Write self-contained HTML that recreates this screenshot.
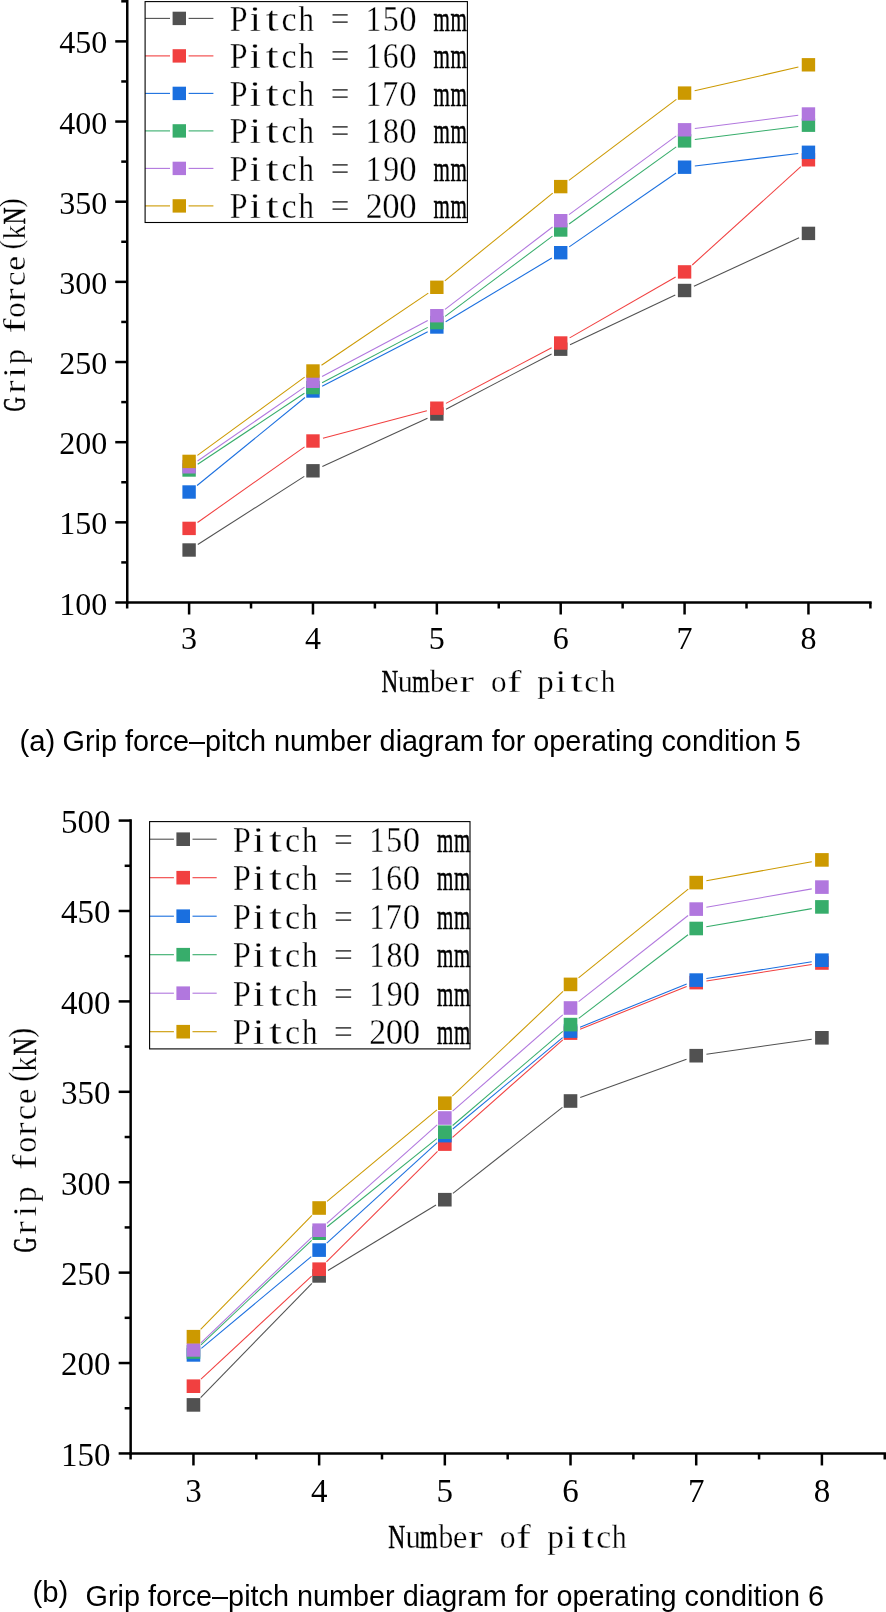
<!DOCTYPE html>
<html><head><meta charset="utf-8"><style>
html,body{margin:0;padding:0;background:#fff;}
body{width:886px;height:1612px;overflow:hidden;}
svg{display:block;will-change:transform;}
.ss text{stroke:#fff;stroke-width:0.3px;}
</style></head><body>
<svg width="886" height="1612" viewBox="0 0 886 1612">
<rect width="886" height="1612" fill="#fff"/>
<g stroke="#000" stroke-width="2.5" stroke-linecap="butt" fill="none">
<line x1="127.25" y1="0" x2="127.25" y2="603.75"/>
<line x1="126.0" y1="602.5" x2="871.65" y2="602.5"/>
<line x1="115.25" y1="602.50" x2="127.25" y2="602.50"/>
<line x1="115.25" y1="522.34" x2="127.25" y2="522.34"/>
<line x1="115.25" y1="442.18" x2="127.25" y2="442.18"/>
<line x1="115.25" y1="362.02" x2="127.25" y2="362.02"/>
<line x1="115.25" y1="281.86" x2="127.25" y2="281.86"/>
<line x1="115.25" y1="201.70" x2="127.25" y2="201.70"/>
<line x1="115.25" y1="121.54" x2="127.25" y2="121.54"/>
<line x1="115.25" y1="41.38" x2="127.25" y2="41.38"/>
<line x1="121.25" y1="562.42" x2="127.25" y2="562.42"/>
<line x1="121.25" y1="482.26" x2="127.25" y2="482.26"/>
<line x1="121.25" y1="402.10" x2="127.25" y2="402.10"/>
<line x1="121.25" y1="321.94" x2="127.25" y2="321.94"/>
<line x1="121.25" y1="241.78" x2="127.25" y2="241.78"/>
<line x1="121.25" y1="161.62" x2="127.25" y2="161.62"/>
<line x1="121.25" y1="81.46" x2="127.25" y2="81.46"/>
<line x1="121.25" y1="1.30" x2="127.25" y2="1.30"/>
<line x1="189.10" y1="602.5" x2="189.10" y2="614.5"/>
<line x1="312.97" y1="602.5" x2="312.97" y2="614.5"/>
<line x1="436.84" y1="602.5" x2="436.84" y2="614.5"/>
<line x1="560.71" y1="602.5" x2="560.71" y2="614.5"/>
<line x1="684.58" y1="602.5" x2="684.58" y2="614.5"/>
<line x1="808.45" y1="602.5" x2="808.45" y2="614.5"/>
<line x1="127.16" y1="602.5" x2="127.16" y2="608.5"/>
<line x1="251.03" y1="602.5" x2="251.03" y2="608.5"/>
<line x1="374.90" y1="602.5" x2="374.90" y2="608.5"/>
<line x1="498.77" y1="602.5" x2="498.77" y2="608.5"/>
<line x1="622.64" y1="602.5" x2="622.64" y2="608.5"/>
<line x1="746.51" y1="602.5" x2="746.51" y2="608.5"/>
<line x1="870.39" y1="602.5" x2="870.39" y2="608.5"/>
</g>
<g font-family='"Liberation Serif", serif' fill="#000">
<text x="107.2" y="614.50" text-anchor="end" font-size="32">100</text>
<text x="107.2" y="534.34" text-anchor="end" font-size="32">150</text>
<text x="107.2" y="454.18" text-anchor="end" font-size="32">200</text>
<text x="107.2" y="374.02" text-anchor="end" font-size="32">250</text>
<text x="107.2" y="293.86" text-anchor="end" font-size="32">300</text>
<text x="107.2" y="213.70" text-anchor="end" font-size="32">350</text>
<text x="107.2" y="133.54" text-anchor="end" font-size="32">400</text>
<text x="107.2" y="53.38" text-anchor="end" font-size="32">450</text>
<text x="189.10" y="648.7" text-anchor="middle" font-size="32">3</text>
<text x="312.97" y="648.7" text-anchor="middle" font-size="32">4</text>
<text x="436.84" y="648.7" text-anchor="middle" font-size="32">5</text>
<text x="560.71" y="648.7" text-anchor="middle" font-size="32">6</text>
<text x="684.58" y="648.7" text-anchor="middle" font-size="32">7</text>
<text x="808.45" y="648.7" text-anchor="middle" font-size="32">8</text>
<g class="ss"><text x="381.38" y="692.30" textLength="16.70" lengthAdjust="spacingAndGlyphs" font-size="32.2" style="stroke:#000;stroke-width:0.5px">N</text>
<text x="397.85" y="692.30" textLength="15.01" lengthAdjust="spacingAndGlyphs" font-size="32.2">u</text>
<text x="412.28" y="692.30" textLength="17.32" lengthAdjust="spacingAndGlyphs" font-size="32.2" style="stroke:#000;stroke-width:0.5px">m</text>
<text x="430.00" y="692.30" textLength="14.50" lengthAdjust="spacingAndGlyphs" font-size="32.2">b</text>
<text x="444.23" y="692.30" textLength="14.39" lengthAdjust="spacingAndGlyphs" font-size="32.2">e</text>
<text x="459.52" y="692.30" textLength="14.67" lengthAdjust="spacingAndGlyphs" font-size="32.2">r</text>
<text x="490.91" y="692.30" textLength="15.57" lengthAdjust="spacingAndGlyphs" font-size="32.2">o</text>
<text x="507.18" y="692.30" textLength="14.32" lengthAdjust="spacingAndGlyphs" font-size="32.2">f</text>
<text x="537.32" y="692.30" textLength="16.52" lengthAdjust="spacingAndGlyphs" font-size="32.2">p</text>
<text x="555.35" y="692.30" textLength="11.22" lengthAdjust="spacingAndGlyphs" font-size="32.2">i</text>
<text x="570.51" y="692.30" textLength="12.40" lengthAdjust="spacingAndGlyphs" font-size="32.2">t</text>
<text x="584.34" y="692.30" textLength="14.68" lengthAdjust="spacingAndGlyphs" font-size="32.2">c</text>
<text x="600.77" y="692.30" textLength="14.57" lengthAdjust="spacingAndGlyphs" font-size="32.2">h</text></g>
<g class="ss" transform="translate(24.9,0) rotate(-90)">
<text x="-411.42" y="0.00" textLength="14.45" lengthAdjust="spacingAndGlyphs" font-size="32" style="stroke:#000;stroke-width:0.5px">G</text>
<text x="-393.49" y="0.00" textLength="13.14" lengthAdjust="spacingAndGlyphs" font-size="32">r</text>
<text x="-377.52" y="0.00" textLength="10.16" lengthAdjust="spacingAndGlyphs" font-size="32">i</text>
<text x="-364.19" y="0.00" textLength="15.06" lengthAdjust="spacingAndGlyphs" font-size="32">p</text>
<text x="-333.40" y="0.00" textLength="15.20" lengthAdjust="spacingAndGlyphs" font-size="32">f</text>
<text x="-317.67" y="0.00" textLength="15.34" lengthAdjust="spacingAndGlyphs" font-size="32">o</text>
<text x="-301.49" y="0.00" textLength="13.14" lengthAdjust="spacingAndGlyphs" font-size="32">r</text>
<text x="-286.16" y="0.00" textLength="14.68" lengthAdjust="spacingAndGlyphs" font-size="32">c</text>
<text x="-270.71" y="0.00" textLength="14.87" lengthAdjust="spacingAndGlyphs" font-size="32">e</text>
<text x="-249.57" y="-3.50" textLength="9.59" lengthAdjust="spacingAndGlyphs" font-size="32">(</text>
<text x="-239.55" y="0.00" textLength="14.55" lengthAdjust="spacingAndGlyphs" font-size="32">k</text>
<text x="-224.58" y="0.00" textLength="17.02" lengthAdjust="spacingAndGlyphs" font-size="32" style="stroke:#000;stroke-width:0.5px">N</text>
<text x="-207.63" y="-3.50" textLength="9.59" lengthAdjust="spacingAndGlyphs" font-size="32">)</text>
</g>
</g>
<line x1="197.78" y1="544.45" x2="304.29" y2="476.35" stroke="#515151" stroke-width="1.05"/>
<line x1="322.33" y1="466.51" x2="427.48" y2="418.29" stroke="#515151" stroke-width="1.05"/>
<line x1="445.97" y1="409.23" x2="551.58" y2="353.97" stroke="#515151" stroke-width="1.05"/>
<line x1="570.02" y1="344.79" x2="675.27" y2="294.91" stroke="#515151" stroke-width="1.05"/>
<line x1="693.93" y1="286.19" x2="799.10" y2="237.71" stroke="#515151" stroke-width="1.05"/>
<line x1="197.52" y1="522.46" x2="304.55" y2="446.94" stroke="#F14040" stroke-width="1.05"/>
<line x1="322.93" y1="438.36" x2="426.88" y2="410.84" stroke="#F14040" stroke-width="1.05"/>
<line x1="445.95" y1="403.40" x2="551.60" y2="347.80" stroke="#F14040" stroke-width="1.05"/>
<line x1="569.64" y1="337.87" x2="675.65" y2="277.03" stroke="#F14040" stroke-width="1.05"/>
<line x1="692.22" y1="264.99" x2="800.81" y2="166.71" stroke="#F14040" stroke-width="1.05"/>
<line x1="197.08" y1="485.49" x2="304.99" y2="397.51" stroke="#1A6FDF" stroke-width="1.05"/>
<line x1="322.12" y1="386.27" x2="427.69" y2="331.73" stroke="#1A6FDF" stroke-width="1.05"/>
<line x1="445.67" y1="321.70" x2="551.88" y2="258.00" stroke="#1A6FDF" stroke-width="1.05"/>
<line x1="569.19" y1="246.85" x2="676.10" y2="173.05" stroke="#1A6FDF" stroke-width="1.05"/>
<line x1="694.81" y1="165.97" x2="798.22" y2="153.53" stroke="#1A6FDF" stroke-width="1.05"/>
<line x1="197.68" y1="464.30" x2="304.39" y2="393.30" stroke="#37AD6B" stroke-width="1.05"/>
<line x1="322.09" y1="382.81" x2="427.72" y2="327.39" stroke="#37AD6B" stroke-width="1.05"/>
<line x1="445.09" y1="316.43" x2="552.46" y2="236.17" stroke="#37AD6B" stroke-width="1.05"/>
<line x1="569.07" y1="223.99" x2="676.22" y2="146.91" stroke="#37AD6B" stroke-width="1.05"/>
<line x1="694.80" y1="139.60" x2="798.23" y2="126.50" stroke="#37AD6B" stroke-width="1.05"/>
<line x1="197.58" y1="460.95" x2="304.49" y2="387.15" stroke="#B177DE" stroke-width="1.05"/>
<line x1="322.07" y1="376.48" x2="427.74" y2="320.52" stroke="#B177DE" stroke-width="1.05"/>
<line x1="445.01" y1="309.43" x2="552.54" y2="226.97" stroke="#B177DE" stroke-width="1.05"/>
<line x1="569.01" y1="214.61" x2="676.28" y2="135.89" stroke="#B177DE" stroke-width="1.05"/>
<line x1="694.80" y1="128.50" x2="798.23" y2="115.30" stroke="#B177DE" stroke-width="1.05"/>
<line x1="197.42" y1="455.33" x2="304.65" y2="377.07" stroke="#CC9900" stroke-width="1.05"/>
<line x1="321.50" y1="365.23" x2="428.31" y2="293.07" stroke="#CC9900" stroke-width="1.05"/>
<line x1="444.83" y1="280.80" x2="552.72" y2="193.10" stroke="#CC9900" stroke-width="1.05"/>
<line x1="568.93" y1="180.39" x2="676.36" y2="99.31" stroke="#CC9900" stroke-width="1.05"/>
<line x1="694.62" y1="90.81" x2="798.41" y2="67.09" stroke="#CC9900" stroke-width="1.05"/>
<rect x="182.40" y="543.30" width="13.4" height="13.4" fill="#515151"/>
<rect x="306.27" y="464.10" width="13.4" height="13.4" fill="#515151"/>
<rect x="430.14" y="407.30" width="13.4" height="13.4" fill="#515151"/>
<rect x="554.01" y="342.50" width="13.4" height="13.4" fill="#515151"/>
<rect x="677.88" y="283.80" width="13.4" height="13.4" fill="#515151"/>
<rect x="801.75" y="226.70" width="13.4" height="13.4" fill="#515151"/>
<rect x="182.40" y="521.70" width="13.4" height="13.4" fill="#F14040"/>
<rect x="306.27" y="434.30" width="13.4" height="13.4" fill="#F14040"/>
<rect x="430.14" y="401.50" width="13.4" height="13.4" fill="#F14040"/>
<rect x="554.01" y="336.30" width="13.4" height="13.4" fill="#F14040"/>
<rect x="677.88" y="265.20" width="13.4" height="13.4" fill="#F14040"/>
<rect x="801.75" y="153.10" width="13.4" height="13.4" fill="#F14040"/>
<rect x="182.40" y="485.30" width="13.4" height="13.4" fill="#1A6FDF"/>
<rect x="306.27" y="384.30" width="13.4" height="13.4" fill="#1A6FDF"/>
<rect x="430.14" y="320.30" width="13.4" height="13.4" fill="#1A6FDF"/>
<rect x="554.01" y="246.00" width="13.4" height="13.4" fill="#1A6FDF"/>
<rect x="677.88" y="160.50" width="13.4" height="13.4" fill="#1A6FDF"/>
<rect x="801.75" y="145.60" width="13.4" height="13.4" fill="#1A6FDF"/>
<rect x="182.40" y="463.30" width="13.4" height="13.4" fill="#37AD6B"/>
<rect x="306.27" y="380.90" width="13.4" height="13.4" fill="#37AD6B"/>
<rect x="430.14" y="315.90" width="13.4" height="13.4" fill="#37AD6B"/>
<rect x="554.01" y="223.30" width="13.4" height="13.4" fill="#37AD6B"/>
<rect x="677.88" y="134.20" width="13.4" height="13.4" fill="#37AD6B"/>
<rect x="801.75" y="118.50" width="13.4" height="13.4" fill="#37AD6B"/>
<rect x="182.40" y="460.10" width="13.4" height="13.4" fill="#B177DE"/>
<rect x="306.27" y="374.60" width="13.4" height="13.4" fill="#B177DE"/>
<rect x="430.14" y="309.00" width="13.4" height="13.4" fill="#B177DE"/>
<rect x="554.01" y="214.00" width="13.4" height="13.4" fill="#B177DE"/>
<rect x="677.88" y="123.10" width="13.4" height="13.4" fill="#B177DE"/>
<rect x="801.75" y="107.30" width="13.4" height="13.4" fill="#B177DE"/>
<rect x="182.40" y="454.70" width="13.4" height="13.4" fill="#CC9900"/>
<rect x="306.27" y="364.30" width="13.4" height="13.4" fill="#CC9900"/>
<rect x="430.14" y="280.60" width="13.4" height="13.4" fill="#CC9900"/>
<rect x="554.01" y="179.90" width="13.4" height="13.4" fill="#CC9900"/>
<rect x="677.88" y="86.40" width="13.4" height="13.4" fill="#CC9900"/>
<rect x="801.75" y="58.10" width="13.4" height="13.4" fill="#CC9900"/>
<rect x="145.1" y="1.6" width="322.29999999999995" height="220.9" fill="#fff"/>
<line x1="145.1" y1="18.40" x2="170.00" y2="18.40" stroke="#515151" stroke-width="1.1"/>
<line x1="188.60" y1="18.40" x2="213.40" y2="18.40" stroke="#515151" stroke-width="1.1"/>
<rect x="172.60" y="11.70" width="13.4" height="13.4" fill="#515151"/>
<g class="ss" font-family='"Liberation Serif", serif' fill="#000">
<text x="229.68" y="30.80" textLength="17.80" lengthAdjust="spacingAndGlyphs" font-size="36">P</text>
<text x="249.53" y="30.80" textLength="11.57" lengthAdjust="spacingAndGlyphs" font-size="36">i</text>
<text x="265.75" y="30.80" textLength="12.93" lengthAdjust="spacingAndGlyphs" font-size="36">t</text>
<text x="281.61" y="30.80" textLength="15.03" lengthAdjust="spacingAndGlyphs" font-size="36">c</text>
<text x="298.50" y="30.80" textLength="15.51" lengthAdjust="spacingAndGlyphs" font-size="36">h</text>
<text x="330.69" y="30.80" textLength="18.79" lengthAdjust="spacingAndGlyphs" font-size="36">=</text>
<text x="365.83" y="30.80" textLength="15.48" lengthAdjust="spacingAndGlyphs" font-size="36">1</text>
<text x="382.70" y="30.80" textLength="15.89" lengthAdjust="spacingAndGlyphs" font-size="36">5</text>
<text x="399.23" y="30.80" textLength="17.34" lengthAdjust="spacingAndGlyphs" font-size="36">0</text>
<text x="433.56" y="30.80" textLength="16.37" lengthAdjust="spacingAndGlyphs" font-size="36" style="stroke:#000;stroke-width:0.5px">m</text>
<text x="450.51" y="30.80" textLength="16.37" lengthAdjust="spacingAndGlyphs" font-size="36" style="stroke:#000;stroke-width:0.5px">m</text>
</g>
<line x1="145.1" y1="55.90" x2="170.00" y2="55.90" stroke="#F14040" stroke-width="1.1"/>
<line x1="188.60" y1="55.90" x2="213.40" y2="55.90" stroke="#F14040" stroke-width="1.1"/>
<rect x="172.60" y="49.20" width="13.4" height="13.4" fill="#F14040"/>
<g class="ss" font-family='"Liberation Serif", serif' fill="#000">
<text x="229.68" y="68.30" textLength="17.80" lengthAdjust="spacingAndGlyphs" font-size="36">P</text>
<text x="249.53" y="68.30" textLength="11.57" lengthAdjust="spacingAndGlyphs" font-size="36">i</text>
<text x="265.75" y="68.30" textLength="12.93" lengthAdjust="spacingAndGlyphs" font-size="36">t</text>
<text x="281.61" y="68.30" textLength="15.03" lengthAdjust="spacingAndGlyphs" font-size="36">c</text>
<text x="298.50" y="68.30" textLength="15.51" lengthAdjust="spacingAndGlyphs" font-size="36">h</text>
<text x="330.69" y="68.30" textLength="18.79" lengthAdjust="spacingAndGlyphs" font-size="36">=</text>
<text x="365.83" y="68.30" textLength="15.48" lengthAdjust="spacingAndGlyphs" font-size="36">1</text>
<text x="382.84" y="68.30" textLength="15.80" lengthAdjust="spacingAndGlyphs" font-size="36">6</text>
<text x="399.23" y="68.30" textLength="17.34" lengthAdjust="spacingAndGlyphs" font-size="36">0</text>
<text x="433.56" y="68.30" textLength="16.37" lengthAdjust="spacingAndGlyphs" font-size="36" style="stroke:#000;stroke-width:0.5px">m</text>
<text x="450.51" y="68.30" textLength="16.37" lengthAdjust="spacingAndGlyphs" font-size="36" style="stroke:#000;stroke-width:0.5px">m</text>
</g>
<line x1="145.1" y1="93.40" x2="170.00" y2="93.40" stroke="#1A6FDF" stroke-width="1.1"/>
<line x1="188.60" y1="93.40" x2="213.40" y2="93.40" stroke="#1A6FDF" stroke-width="1.1"/>
<rect x="172.60" y="86.70" width="13.4" height="13.4" fill="#1A6FDF"/>
<g class="ss" font-family='"Liberation Serif", serif' fill="#000">
<text x="229.68" y="105.80" textLength="17.80" lengthAdjust="spacingAndGlyphs" font-size="36">P</text>
<text x="249.53" y="105.80" textLength="11.57" lengthAdjust="spacingAndGlyphs" font-size="36">i</text>
<text x="265.75" y="105.80" textLength="12.93" lengthAdjust="spacingAndGlyphs" font-size="36">t</text>
<text x="281.61" y="105.80" textLength="15.03" lengthAdjust="spacingAndGlyphs" font-size="36">c</text>
<text x="298.50" y="105.80" textLength="15.51" lengthAdjust="spacingAndGlyphs" font-size="36">h</text>
<text x="330.69" y="105.80" textLength="18.79" lengthAdjust="spacingAndGlyphs" font-size="36">=</text>
<text x="365.83" y="105.80" textLength="15.48" lengthAdjust="spacingAndGlyphs" font-size="36">1</text>
<text x="382.34" y="105.80" textLength="16.04" lengthAdjust="spacingAndGlyphs" font-size="36">7</text>
<text x="399.23" y="105.80" textLength="17.34" lengthAdjust="spacingAndGlyphs" font-size="36">0</text>
<text x="433.56" y="105.80" textLength="16.37" lengthAdjust="spacingAndGlyphs" font-size="36" style="stroke:#000;stroke-width:0.5px">m</text>
<text x="450.51" y="105.80" textLength="16.37" lengthAdjust="spacingAndGlyphs" font-size="36" style="stroke:#000;stroke-width:0.5px">m</text>
</g>
<line x1="145.1" y1="130.90" x2="170.00" y2="130.90" stroke="#37AD6B" stroke-width="1.1"/>
<line x1="188.60" y1="130.90" x2="213.40" y2="130.90" stroke="#37AD6B" stroke-width="1.1"/>
<rect x="172.60" y="124.20" width="13.4" height="13.4" fill="#37AD6B"/>
<g class="ss" font-family='"Liberation Serif", serif' fill="#000">
<text x="229.68" y="143.30" textLength="17.80" lengthAdjust="spacingAndGlyphs" font-size="36">P</text>
<text x="249.53" y="143.30" textLength="11.57" lengthAdjust="spacingAndGlyphs" font-size="36">i</text>
<text x="265.75" y="143.30" textLength="12.93" lengthAdjust="spacingAndGlyphs" font-size="36">t</text>
<text x="281.61" y="143.30" textLength="15.03" lengthAdjust="spacingAndGlyphs" font-size="36">c</text>
<text x="298.50" y="143.30" textLength="15.51" lengthAdjust="spacingAndGlyphs" font-size="36">h</text>
<text x="330.69" y="143.30" textLength="18.79" lengthAdjust="spacingAndGlyphs" font-size="36">=</text>
<text x="365.83" y="143.30" textLength="15.48" lengthAdjust="spacingAndGlyphs" font-size="36">1</text>
<text x="382.99" y="143.30" textLength="15.93" lengthAdjust="spacingAndGlyphs" font-size="36">8</text>
<text x="399.23" y="143.30" textLength="17.34" lengthAdjust="spacingAndGlyphs" font-size="36">0</text>
<text x="433.56" y="143.30" textLength="16.37" lengthAdjust="spacingAndGlyphs" font-size="36" style="stroke:#000;stroke-width:0.5px">m</text>
<text x="450.51" y="143.30" textLength="16.37" lengthAdjust="spacingAndGlyphs" font-size="36" style="stroke:#000;stroke-width:0.5px">m</text>
</g>
<line x1="145.1" y1="168.40" x2="170.00" y2="168.40" stroke="#B177DE" stroke-width="1.1"/>
<line x1="188.60" y1="168.40" x2="213.40" y2="168.40" stroke="#B177DE" stroke-width="1.1"/>
<rect x="172.60" y="161.70" width="13.4" height="13.4" fill="#B177DE"/>
<g class="ss" font-family='"Liberation Serif", serif' fill="#000">
<text x="229.68" y="180.80" textLength="17.80" lengthAdjust="spacingAndGlyphs" font-size="36">P</text>
<text x="249.53" y="180.80" textLength="11.57" lengthAdjust="spacingAndGlyphs" font-size="36">i</text>
<text x="265.75" y="180.80" textLength="12.93" lengthAdjust="spacingAndGlyphs" font-size="36">t</text>
<text x="281.61" y="180.80" textLength="15.03" lengthAdjust="spacingAndGlyphs" font-size="36">c</text>
<text x="298.50" y="180.80" textLength="15.51" lengthAdjust="spacingAndGlyphs" font-size="36">h</text>
<text x="330.69" y="180.80" textLength="18.79" lengthAdjust="spacingAndGlyphs" font-size="36">=</text>
<text x="365.83" y="180.80" textLength="15.48" lengthAdjust="spacingAndGlyphs" font-size="36">1</text>
<text x="383.18" y="180.80" textLength="15.82" lengthAdjust="spacingAndGlyphs" font-size="36">9</text>
<text x="399.23" y="180.80" textLength="17.34" lengthAdjust="spacingAndGlyphs" font-size="36">0</text>
<text x="433.56" y="180.80" textLength="16.37" lengthAdjust="spacingAndGlyphs" font-size="36" style="stroke:#000;stroke-width:0.5px">m</text>
<text x="450.51" y="180.80" textLength="16.37" lengthAdjust="spacingAndGlyphs" font-size="36" style="stroke:#000;stroke-width:0.5px">m</text>
</g>
<line x1="145.1" y1="205.90" x2="170.00" y2="205.90" stroke="#CC9900" stroke-width="1.1"/>
<line x1="188.60" y1="205.90" x2="213.40" y2="205.90" stroke="#CC9900" stroke-width="1.1"/>
<rect x="172.60" y="199.20" width="13.4" height="13.4" fill="#CC9900"/>
<g class="ss" font-family='"Liberation Serif", serif' fill="#000">
<text x="229.68" y="218.30" textLength="17.80" lengthAdjust="spacingAndGlyphs" font-size="36">P</text>
<text x="249.53" y="218.30" textLength="11.57" lengthAdjust="spacingAndGlyphs" font-size="36">i</text>
<text x="265.75" y="218.30" textLength="12.93" lengthAdjust="spacingAndGlyphs" font-size="36">t</text>
<text x="281.61" y="218.30" textLength="15.03" lengthAdjust="spacingAndGlyphs" font-size="36">c</text>
<text x="298.50" y="218.30" textLength="15.51" lengthAdjust="spacingAndGlyphs" font-size="36">h</text>
<text x="330.69" y="218.30" textLength="18.79" lengthAdjust="spacingAndGlyphs" font-size="36">=</text>
<text x="365.77" y="218.30" textLength="16.84" lengthAdjust="spacingAndGlyphs" font-size="36">2</text>
<text x="382.28" y="218.30" textLength="17.34" lengthAdjust="spacingAndGlyphs" font-size="36">0</text>
<text x="399.23" y="218.30" textLength="17.34" lengthAdjust="spacingAndGlyphs" font-size="36">0</text>
<text x="433.56" y="218.30" textLength="16.37" lengthAdjust="spacingAndGlyphs" font-size="36" style="stroke:#000;stroke-width:0.5px">m</text>
<text x="450.51" y="218.30" textLength="16.37" lengthAdjust="spacingAndGlyphs" font-size="36" style="stroke:#000;stroke-width:0.5px">m</text>
</g>
<rect x="145.1" y="1.6" width="322.29999999999995" height="220.9" fill="none" stroke="#000" stroke-width="1.1"/>
<g stroke="#000" stroke-width="2.5" stroke-linecap="butt" fill="none">
<line x1="130.65" y1="819.35" x2="130.65" y2="1454.7"/>
<line x1="129.4" y1="1453.45" x2="885.95" y2="1453.45"/>
<line x1="118.65" y1="1453.45" x2="130.65" y2="1453.45"/>
<line x1="118.65" y1="1363.04" x2="130.65" y2="1363.04"/>
<line x1="118.65" y1="1272.63" x2="130.65" y2="1272.63"/>
<line x1="118.65" y1="1182.22" x2="130.65" y2="1182.22"/>
<line x1="118.65" y1="1091.81" x2="130.65" y2="1091.81"/>
<line x1="118.65" y1="1001.40" x2="130.65" y2="1001.40"/>
<line x1="118.65" y1="910.99" x2="130.65" y2="910.99"/>
<line x1="118.65" y1="820.58" x2="130.65" y2="820.58"/>
<line x1="124.65" y1="1408.25" x2="130.65" y2="1408.25"/>
<line x1="124.65" y1="1317.84" x2="130.65" y2="1317.84"/>
<line x1="124.65" y1="1227.42" x2="130.65" y2="1227.42"/>
<line x1="124.65" y1="1137.02" x2="130.65" y2="1137.02"/>
<line x1="124.65" y1="1046.61" x2="130.65" y2="1046.61"/>
<line x1="124.65" y1="956.20" x2="130.65" y2="956.20"/>
<line x1="124.65" y1="865.79" x2="130.65" y2="865.79"/>
<line x1="193.45" y1="1453.45" x2="193.45" y2="1465.45"/>
<line x1="319.14" y1="1453.45" x2="319.14" y2="1465.45"/>
<line x1="444.83" y1="1453.45" x2="444.83" y2="1465.45"/>
<line x1="570.52" y1="1453.45" x2="570.52" y2="1465.45"/>
<line x1="696.21" y1="1453.45" x2="696.21" y2="1465.45"/>
<line x1="821.90" y1="1453.45" x2="821.90" y2="1465.45"/>
<line x1="130.60" y1="1453.45" x2="130.60" y2="1459.45"/>
<line x1="256.29" y1="1453.45" x2="256.29" y2="1459.45"/>
<line x1="381.99" y1="1453.45" x2="381.99" y2="1459.45"/>
<line x1="507.68" y1="1453.45" x2="507.68" y2="1459.45"/>
<line x1="633.37" y1="1453.45" x2="633.37" y2="1459.45"/>
<line x1="759.06" y1="1453.45" x2="759.06" y2="1459.45"/>
<line x1="884.74" y1="1453.45" x2="884.74" y2="1459.45"/>
</g>
<g font-family='"Liberation Serif", serif' fill="#000">
<text x="110.6" y="1465.85" text-anchor="end" font-size="33">150</text>
<text x="110.6" y="1375.44" text-anchor="end" font-size="33">200</text>
<text x="110.6" y="1285.03" text-anchor="end" font-size="33">250</text>
<text x="110.6" y="1194.62" text-anchor="end" font-size="33">300</text>
<text x="110.6" y="1104.21" text-anchor="end" font-size="33">350</text>
<text x="110.6" y="1013.80" text-anchor="end" font-size="33">400</text>
<text x="110.6" y="923.39" text-anchor="end" font-size="33">450</text>
<text x="110.6" y="832.98" text-anchor="end" font-size="33">500</text>
<text x="193.45" y="1501.6" text-anchor="middle" font-size="33">3</text>
<text x="319.14" y="1501.6" text-anchor="middle" font-size="33">4</text>
<text x="444.83" y="1501.6" text-anchor="middle" font-size="33">5</text>
<text x="570.52" y="1501.6" text-anchor="middle" font-size="33">6</text>
<text x="696.21" y="1501.6" text-anchor="middle" font-size="33">7</text>
<text x="821.90" y="1501.6" text-anchor="middle" font-size="33">8</text>
<g class="ss"><text x="388.32" y="1547.90" textLength="17.03" lengthAdjust="spacingAndGlyphs" font-size="33.4" style="stroke:#000;stroke-width:0.5px">N</text>
<text x="405.41" y="1547.90" textLength="15.31" lengthAdjust="spacingAndGlyphs" font-size="33.4">u</text>
<text x="420.11" y="1547.90" textLength="17.66" lengthAdjust="spacingAndGlyphs" font-size="33.4" style="stroke:#000;stroke-width:0.5px">m</text>
<text x="438.57" y="1547.90" textLength="14.79" lengthAdjust="spacingAndGlyphs" font-size="33.4">b</text>
<text x="452.79" y="1547.90" textLength="14.68" lengthAdjust="spacingAndGlyphs" font-size="33.4">e</text>
<text x="468.07" y="1547.90" textLength="14.96" lengthAdjust="spacingAndGlyphs" font-size="33.4">r</text>
<text x="499.86" y="1547.90" textLength="15.88" lengthAdjust="spacingAndGlyphs" font-size="33.4">o</text>
<text x="516.32" y="1547.90" textLength="14.61" lengthAdjust="spacingAndGlyphs" font-size="33.4">f</text>
<text x="547.16" y="1547.90" textLength="16.85" lengthAdjust="spacingAndGlyphs" font-size="33.4">p</text>
<text x="565.04" y="1547.90" textLength="11.44" lengthAdjust="spacingAndGlyphs" font-size="33.4">i</text>
<text x="581.59" y="1547.90" textLength="12.65" lengthAdjust="spacingAndGlyphs" font-size="33.4">t</text>
<text x="596.39" y="1547.90" textLength="14.97" lengthAdjust="spacingAndGlyphs" font-size="33.4">c</text>
<text x="611.82" y="1547.90" textLength="14.86" lengthAdjust="spacingAndGlyphs" font-size="33.4">h</text></g>
<g class="ss" transform="translate(35.5,0) rotate(-90)">
<text x="-1252.41" y="0.00" textLength="15.02" lengthAdjust="spacingAndGlyphs" font-size="33.5" style="stroke:#000;stroke-width:0.5px">G</text>
<text x="-1234.66" y="0.00" textLength="13.66" lengthAdjust="spacingAndGlyphs" font-size="33.5">r</text>
<text x="-1216.62" y="0.00" textLength="10.57" lengthAdjust="spacingAndGlyphs" font-size="33.5">i</text>
<text x="-1202.27" y="0.00" textLength="15.66" lengthAdjust="spacingAndGlyphs" font-size="33.5">p</text>
<text x="-1170.04" y="0.00" textLength="15.81" lengthAdjust="spacingAndGlyphs" font-size="33.5">f</text>
<text x="-1152.87" y="0.00" textLength="15.95" lengthAdjust="spacingAndGlyphs" font-size="33.5">o</text>
<text x="-1136.06" y="0.00" textLength="13.66" lengthAdjust="spacingAndGlyphs" font-size="33.5">r</text>
<text x="-1120.36" y="0.00" textLength="15.26" lengthAdjust="spacingAndGlyphs" font-size="33.5">c</text>
<text x="-1104.01" y="0.00" textLength="15.46" lengthAdjust="spacingAndGlyphs" font-size="33.5">e</text>
<text x="-1081.76" y="-3.50" textLength="9.98" lengthAdjust="spacingAndGlyphs" font-size="33.5">(</text>
<text x="-1071.86" y="0.00" textLength="15.14" lengthAdjust="spacingAndGlyphs" font-size="33.5">k</text>
<text x="-1055.42" y="0.00" textLength="17.70" lengthAdjust="spacingAndGlyphs" font-size="33.5" style="stroke:#000;stroke-width:0.5px">N</text>
<text x="-1037.81" y="-3.50" textLength="9.98" lengthAdjust="spacingAndGlyphs" font-size="33.5">)</text>
</g>
</g>
<line x1="200.64" y1="1397.52" x2="311.95" y2="1283.28" stroke="#515151" stroke-width="1.05"/>
<line x1="327.95" y1="1270.56" x2="436.02" y2="1205.04" stroke="#515151" stroke-width="1.05"/>
<line x1="452.93" y1="1193.34" x2="562.42" y2="1107.36" stroke="#515151" stroke-width="1.05"/>
<line x1="580.21" y1="1097.51" x2="686.52" y2="1059.19" stroke="#515151" stroke-width="1.05"/>
<line x1="706.41" y1="1054.25" x2="811.70" y2="1039.25" stroke="#515151" stroke-width="1.05"/>
<line x1="200.99" y1="1379.18" x2="311.60" y2="1276.22" stroke="#F14040" stroke-width="1.05"/>
<line x1="326.44" y1="1261.93" x2="437.53" y2="1151.37" stroke="#F14040" stroke-width="1.05"/>
<line x1="452.55" y1="1137.28" x2="562.80" y2="1039.92" stroke="#F14040" stroke-width="1.05"/>
<line x1="580.08" y1="1029.26" x2="686.65" y2="986.44" stroke="#F14040" stroke-width="1.05"/>
<line x1="706.39" y1="981.01" x2="811.72" y2="964.59" stroke="#F14040" stroke-width="1.05"/>
<line x1="201.36" y1="1348.30" x2="311.23" y2="1256.70" stroke="#1A6FDF" stroke-width="1.05"/>
<line x1="326.75" y1="1243.16" x2="437.22" y2="1142.54" stroke="#1A6FDF" stroke-width="1.05"/>
<line x1="452.75" y1="1129.02" x2="562.60" y2="1037.68" stroke="#1A6FDF" stroke-width="1.05"/>
<line x1="580.06" y1="1027.23" x2="686.67" y2="983.97" stroke="#1A6FDF" stroke-width="1.05"/>
<line x1="706.38" y1="978.49" x2="811.73" y2="961.81" stroke="#1A6FDF" stroke-width="1.05"/>
<line x1="200.94" y1="1344.92" x2="311.65" y2="1240.28" stroke="#37AD6B" stroke-width="1.05"/>
<line x1="327.17" y1="1226.75" x2="436.80" y2="1138.65" stroke="#37AD6B" stroke-width="1.05"/>
<line x1="452.65" y1="1125.50" x2="562.70" y2="1031.30" stroke="#37AD6B" stroke-width="1.05"/>
<line x1="578.70" y1="1018.34" x2="688.03" y2="934.76" stroke="#37AD6B" stroke-width="1.05"/>
<line x1="706.36" y1="926.76" x2="811.75" y2="908.64" stroke="#37AD6B" stroke-width="1.05"/>
<line x1="200.91" y1="1342.80" x2="311.68" y2="1237.30" stroke="#B177DE" stroke-width="1.05"/>
<line x1="326.82" y1="1223.34" x2="437.15" y2="1124.86" stroke="#B177DE" stroke-width="1.05"/>
<line x1="452.58" y1="1111.22" x2="562.77" y2="1014.78" stroke="#B177DE" stroke-width="1.05"/>
<line x1="578.61" y1="1001.63" x2="688.12" y2="915.47" stroke="#B177DE" stroke-width="1.05"/>
<line x1="706.36" y1="907.32" x2="811.75" y2="888.88" stroke="#B177DE" stroke-width="1.05"/>
<line x1="200.65" y1="1329.33" x2="311.94" y2="1215.37" stroke="#CC9900" stroke-width="1.05"/>
<line x1="327.05" y1="1201.40" x2="436.92" y2="1109.80" stroke="#CC9900" stroke-width="1.05"/>
<line x1="452.32" y1="1096.12" x2="563.03" y2="991.48" stroke="#CC9900" stroke-width="1.05"/>
<line x1="578.52" y1="977.92" x2="688.21" y2="889.08" stroke="#CC9900" stroke-width="1.05"/>
<line x1="706.35" y1="880.77" x2="811.76" y2="861.73" stroke="#CC9900" stroke-width="1.05"/>
<rect x="186.65" y="1398.10" width="13.6" height="13.6" fill="#515151"/>
<rect x="312.34" y="1269.10" width="13.6" height="13.6" fill="#515151"/>
<rect x="438.03" y="1192.90" width="13.6" height="13.6" fill="#515151"/>
<rect x="563.72" y="1094.20" width="13.6" height="13.6" fill="#515151"/>
<rect x="689.41" y="1048.90" width="13.6" height="13.6" fill="#515151"/>
<rect x="815.10" y="1031.00" width="13.6" height="13.6" fill="#515151"/>
<rect x="186.65" y="1379.40" width="13.6" height="13.6" fill="#F14040"/>
<rect x="312.34" y="1262.40" width="13.6" height="13.6" fill="#F14040"/>
<rect x="438.03" y="1137.30" width="13.6" height="13.6" fill="#F14040"/>
<rect x="563.72" y="1026.30" width="13.6" height="13.6" fill="#F14040"/>
<rect x="689.41" y="975.80" width="13.6" height="13.6" fill="#F14040"/>
<rect x="815.10" y="956.20" width="13.6" height="13.6" fill="#F14040"/>
<rect x="186.65" y="1348.10" width="13.6" height="13.6" fill="#1A6FDF"/>
<rect x="312.34" y="1243.30" width="13.6" height="13.6" fill="#1A6FDF"/>
<rect x="438.03" y="1128.80" width="13.6" height="13.6" fill="#1A6FDF"/>
<rect x="563.72" y="1024.30" width="13.6" height="13.6" fill="#1A6FDF"/>
<rect x="689.41" y="973.30" width="13.6" height="13.6" fill="#1A6FDF"/>
<rect x="815.10" y="953.40" width="13.6" height="13.6" fill="#1A6FDF"/>
<rect x="186.65" y="1345.20" width="13.6" height="13.6" fill="#37AD6B"/>
<rect x="312.34" y="1226.40" width="13.6" height="13.6" fill="#37AD6B"/>
<rect x="438.03" y="1125.40" width="13.6" height="13.6" fill="#37AD6B"/>
<rect x="563.72" y="1017.80" width="13.6" height="13.6" fill="#37AD6B"/>
<rect x="689.41" y="921.70" width="13.6" height="13.6" fill="#37AD6B"/>
<rect x="815.10" y="900.10" width="13.6" height="13.6" fill="#37AD6B"/>
<rect x="186.65" y="1343.10" width="13.6" height="13.6" fill="#B177DE"/>
<rect x="312.34" y="1223.40" width="13.6" height="13.6" fill="#B177DE"/>
<rect x="438.03" y="1111.20" width="13.6" height="13.6" fill="#B177DE"/>
<rect x="563.72" y="1001.20" width="13.6" height="13.6" fill="#B177DE"/>
<rect x="689.41" y="902.30" width="13.6" height="13.6" fill="#B177DE"/>
<rect x="815.10" y="880.30" width="13.6" height="13.6" fill="#B177DE"/>
<rect x="186.65" y="1329.90" width="13.6" height="13.6" fill="#CC9900"/>
<rect x="312.34" y="1201.20" width="13.6" height="13.6" fill="#CC9900"/>
<rect x="438.03" y="1096.40" width="13.6" height="13.6" fill="#CC9900"/>
<rect x="563.72" y="977.60" width="13.6" height="13.6" fill="#CC9900"/>
<rect x="689.41" y="875.80" width="13.6" height="13.6" fill="#CC9900"/>
<rect x="815.10" y="853.10" width="13.6" height="13.6" fill="#CC9900"/>
<rect x="149.6" y="821.6" width="320.4" height="227.30000000000007" fill="#fff"/>
<line x1="149.6" y1="839.20" x2="173.90" y2="839.20" stroke="#515151" stroke-width="1.1"/>
<line x1="192.50" y1="839.20" x2="216.70" y2="839.20" stroke="#515151" stroke-width="1.1"/>
<rect x="176.40" y="832.40" width="13.6" height="13.6" fill="#515151"/>
<g class="ss" font-family='"Liberation Serif", serif' fill="#000">
<text x="232.98" y="851.80" textLength="17.80" lengthAdjust="spacingAndGlyphs" font-size="36">P</text>
<text x="252.85" y="851.80" textLength="11.57" lengthAdjust="spacingAndGlyphs" font-size="36">i</text>
<text x="269.09" y="851.80" textLength="12.93" lengthAdjust="spacingAndGlyphs" font-size="36">t</text>
<text x="284.97" y="851.80" textLength="15.03" lengthAdjust="spacingAndGlyphs" font-size="36">c</text>
<text x="301.88" y="851.80" textLength="15.51" lengthAdjust="spacingAndGlyphs" font-size="36">h</text>
<text x="334.11" y="851.80" textLength="18.79" lengthAdjust="spacingAndGlyphs" font-size="36">=</text>
<text x="369.29" y="851.80" textLength="15.48" lengthAdjust="spacingAndGlyphs" font-size="36">1</text>
<text x="386.18" y="851.80" textLength="15.89" lengthAdjust="spacingAndGlyphs" font-size="36">5</text>
<text x="402.73" y="851.80" textLength="17.34" lengthAdjust="spacingAndGlyphs" font-size="36">0</text>
<text x="437.10" y="851.80" textLength="16.37" lengthAdjust="spacingAndGlyphs" font-size="36" style="stroke:#000;stroke-width:0.5px">m</text>
<text x="454.07" y="851.80" textLength="16.37" lengthAdjust="spacingAndGlyphs" font-size="36" style="stroke:#000;stroke-width:0.5px">m</text>
</g>
<line x1="149.6" y1="877.70" x2="173.90" y2="877.70" stroke="#F14040" stroke-width="1.1"/>
<line x1="192.50" y1="877.70" x2="216.70" y2="877.70" stroke="#F14040" stroke-width="1.1"/>
<rect x="176.40" y="870.90" width="13.6" height="13.6" fill="#F14040"/>
<g class="ss" font-family='"Liberation Serif", serif' fill="#000">
<text x="232.98" y="890.30" textLength="17.80" lengthAdjust="spacingAndGlyphs" font-size="36">P</text>
<text x="252.85" y="890.30" textLength="11.57" lengthAdjust="spacingAndGlyphs" font-size="36">i</text>
<text x="269.09" y="890.30" textLength="12.93" lengthAdjust="spacingAndGlyphs" font-size="36">t</text>
<text x="284.97" y="890.30" textLength="15.03" lengthAdjust="spacingAndGlyphs" font-size="36">c</text>
<text x="301.88" y="890.30" textLength="15.51" lengthAdjust="spacingAndGlyphs" font-size="36">h</text>
<text x="334.11" y="890.30" textLength="18.79" lengthAdjust="spacingAndGlyphs" font-size="36">=</text>
<text x="369.29" y="890.30" textLength="15.48" lengthAdjust="spacingAndGlyphs" font-size="36">1</text>
<text x="386.32" y="890.30" textLength="15.80" lengthAdjust="spacingAndGlyphs" font-size="36">6</text>
<text x="402.73" y="890.30" textLength="17.34" lengthAdjust="spacingAndGlyphs" font-size="36">0</text>
<text x="437.10" y="890.30" textLength="16.37" lengthAdjust="spacingAndGlyphs" font-size="36" style="stroke:#000;stroke-width:0.5px">m</text>
<text x="454.07" y="890.30" textLength="16.37" lengthAdjust="spacingAndGlyphs" font-size="36" style="stroke:#000;stroke-width:0.5px">m</text>
</g>
<line x1="149.6" y1="916.20" x2="173.90" y2="916.20" stroke="#1A6FDF" stroke-width="1.1"/>
<line x1="192.50" y1="916.20" x2="216.70" y2="916.20" stroke="#1A6FDF" stroke-width="1.1"/>
<rect x="176.40" y="909.40" width="13.6" height="13.6" fill="#1A6FDF"/>
<g class="ss" font-family='"Liberation Serif", serif' fill="#000">
<text x="232.98" y="928.80" textLength="17.80" lengthAdjust="spacingAndGlyphs" font-size="36">P</text>
<text x="252.85" y="928.80" textLength="11.57" lengthAdjust="spacingAndGlyphs" font-size="36">i</text>
<text x="269.09" y="928.80" textLength="12.93" lengthAdjust="spacingAndGlyphs" font-size="36">t</text>
<text x="284.97" y="928.80" textLength="15.03" lengthAdjust="spacingAndGlyphs" font-size="36">c</text>
<text x="301.88" y="928.80" textLength="15.51" lengthAdjust="spacingAndGlyphs" font-size="36">h</text>
<text x="334.11" y="928.80" textLength="18.79" lengthAdjust="spacingAndGlyphs" font-size="36">=</text>
<text x="369.29" y="928.80" textLength="15.48" lengthAdjust="spacingAndGlyphs" font-size="36">1</text>
<text x="385.82" y="928.80" textLength="16.04" lengthAdjust="spacingAndGlyphs" font-size="36">7</text>
<text x="402.73" y="928.80" textLength="17.34" lengthAdjust="spacingAndGlyphs" font-size="36">0</text>
<text x="437.10" y="928.80" textLength="16.37" lengthAdjust="spacingAndGlyphs" font-size="36" style="stroke:#000;stroke-width:0.5px">m</text>
<text x="454.07" y="928.80" textLength="16.37" lengthAdjust="spacingAndGlyphs" font-size="36" style="stroke:#000;stroke-width:0.5px">m</text>
</g>
<line x1="149.6" y1="954.70" x2="173.90" y2="954.70" stroke="#37AD6B" stroke-width="1.1"/>
<line x1="192.50" y1="954.70" x2="216.70" y2="954.70" stroke="#37AD6B" stroke-width="1.1"/>
<rect x="176.40" y="947.90" width="13.6" height="13.6" fill="#37AD6B"/>
<g class="ss" font-family='"Liberation Serif", serif' fill="#000">
<text x="232.98" y="967.30" textLength="17.80" lengthAdjust="spacingAndGlyphs" font-size="36">P</text>
<text x="252.85" y="967.30" textLength="11.57" lengthAdjust="spacingAndGlyphs" font-size="36">i</text>
<text x="269.09" y="967.30" textLength="12.93" lengthAdjust="spacingAndGlyphs" font-size="36">t</text>
<text x="284.97" y="967.30" textLength="15.03" lengthAdjust="spacingAndGlyphs" font-size="36">c</text>
<text x="301.88" y="967.30" textLength="15.51" lengthAdjust="spacingAndGlyphs" font-size="36">h</text>
<text x="334.11" y="967.30" textLength="18.79" lengthAdjust="spacingAndGlyphs" font-size="36">=</text>
<text x="369.29" y="967.30" textLength="15.48" lengthAdjust="spacingAndGlyphs" font-size="36">1</text>
<text x="386.47" y="967.30" textLength="15.93" lengthAdjust="spacingAndGlyphs" font-size="36">8</text>
<text x="402.73" y="967.30" textLength="17.34" lengthAdjust="spacingAndGlyphs" font-size="36">0</text>
<text x="437.10" y="967.30" textLength="16.37" lengthAdjust="spacingAndGlyphs" font-size="36" style="stroke:#000;stroke-width:0.5px">m</text>
<text x="454.07" y="967.30" textLength="16.37" lengthAdjust="spacingAndGlyphs" font-size="36" style="stroke:#000;stroke-width:0.5px">m</text>
</g>
<line x1="149.6" y1="993.20" x2="173.90" y2="993.20" stroke="#B177DE" stroke-width="1.1"/>
<line x1="192.50" y1="993.20" x2="216.70" y2="993.20" stroke="#B177DE" stroke-width="1.1"/>
<rect x="176.40" y="986.40" width="13.6" height="13.6" fill="#B177DE"/>
<g class="ss" font-family='"Liberation Serif", serif' fill="#000">
<text x="232.98" y="1005.80" textLength="17.80" lengthAdjust="spacingAndGlyphs" font-size="36">P</text>
<text x="252.85" y="1005.80" textLength="11.57" lengthAdjust="spacingAndGlyphs" font-size="36">i</text>
<text x="269.09" y="1005.80" textLength="12.93" lengthAdjust="spacingAndGlyphs" font-size="36">t</text>
<text x="284.97" y="1005.80" textLength="15.03" lengthAdjust="spacingAndGlyphs" font-size="36">c</text>
<text x="301.88" y="1005.80" textLength="15.51" lengthAdjust="spacingAndGlyphs" font-size="36">h</text>
<text x="334.11" y="1005.80" textLength="18.79" lengthAdjust="spacingAndGlyphs" font-size="36">=</text>
<text x="369.29" y="1005.80" textLength="15.48" lengthAdjust="spacingAndGlyphs" font-size="36">1</text>
<text x="386.66" y="1005.80" textLength="15.82" lengthAdjust="spacingAndGlyphs" font-size="36">9</text>
<text x="402.73" y="1005.80" textLength="17.34" lengthAdjust="spacingAndGlyphs" font-size="36">0</text>
<text x="437.10" y="1005.80" textLength="16.37" lengthAdjust="spacingAndGlyphs" font-size="36" style="stroke:#000;stroke-width:0.5px">m</text>
<text x="454.07" y="1005.80" textLength="16.37" lengthAdjust="spacingAndGlyphs" font-size="36" style="stroke:#000;stroke-width:0.5px">m</text>
</g>
<line x1="149.6" y1="1031.70" x2="173.90" y2="1031.70" stroke="#CC9900" stroke-width="1.1"/>
<line x1="192.50" y1="1031.70" x2="216.70" y2="1031.70" stroke="#CC9900" stroke-width="1.1"/>
<rect x="176.40" y="1024.90" width="13.6" height="13.6" fill="#CC9900"/>
<g class="ss" font-family='"Liberation Serif", serif' fill="#000">
<text x="232.98" y="1044.30" textLength="17.80" lengthAdjust="spacingAndGlyphs" font-size="36">P</text>
<text x="252.85" y="1044.30" textLength="11.57" lengthAdjust="spacingAndGlyphs" font-size="36">i</text>
<text x="269.09" y="1044.30" textLength="12.93" lengthAdjust="spacingAndGlyphs" font-size="36">t</text>
<text x="284.97" y="1044.30" textLength="15.03" lengthAdjust="spacingAndGlyphs" font-size="36">c</text>
<text x="301.88" y="1044.30" textLength="15.51" lengthAdjust="spacingAndGlyphs" font-size="36">h</text>
<text x="334.11" y="1044.30" textLength="18.79" lengthAdjust="spacingAndGlyphs" font-size="36">=</text>
<text x="369.23" y="1044.30" textLength="16.84" lengthAdjust="spacingAndGlyphs" font-size="36">2</text>
<text x="385.76" y="1044.30" textLength="17.34" lengthAdjust="spacingAndGlyphs" font-size="36">0</text>
<text x="402.73" y="1044.30" textLength="17.34" lengthAdjust="spacingAndGlyphs" font-size="36">0</text>
<text x="437.10" y="1044.30" textLength="16.37" lengthAdjust="spacingAndGlyphs" font-size="36" style="stroke:#000;stroke-width:0.5px">m</text>
<text x="454.07" y="1044.30" textLength="16.37" lengthAdjust="spacingAndGlyphs" font-size="36" style="stroke:#000;stroke-width:0.5px">m</text>
</g>
<rect x="149.6" y="821.6" width="320.4" height="227.30000000000007" fill="none" stroke="#000" stroke-width="1.1"/>
<g font-family='"Liberation Sans", sans-serif' fill="#000" font-size="29.3">
<text x="19.4" y="750.5">(a)</text>
<text x="62.6" y="750.5" textLength="738.2" lengthAdjust="spacingAndGlyphs">Grip force–pitch number diagram for operating condition 5</text>
<text x="32.5" y="1601.5">(b)</text>
<text x="85.6" y="1605.6" textLength="738.4" lengthAdjust="spacingAndGlyphs">Grip force–pitch number diagram for operating condition 6</text>
</g>
</svg>
</body></html>
